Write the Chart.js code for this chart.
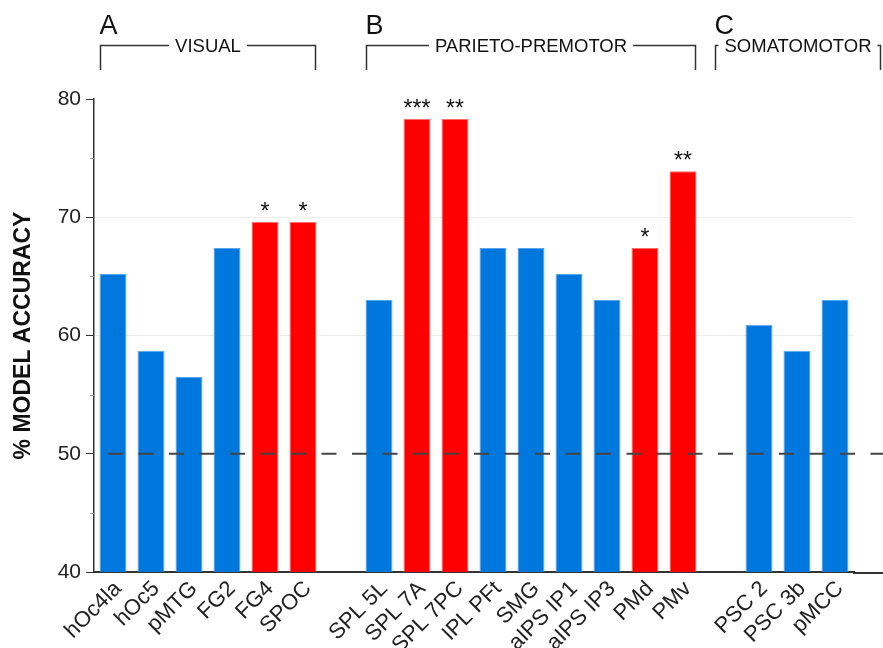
<!DOCTYPE html>
<html>
<head>
<meta charset="utf-8">
<script src="https://cdn.jsdelivr.net/npm/chart.js@4/dist/chart.umd.min.js"></script>
<style>
  html, body { margin: 0; padding: 0; background: #fff; }
  #wrap { width: 883px; height: 648px; }
</style>
</head>
<body>
<div id="wrap"><canvas id="accuracyChart"></canvas></div>
<script>
// regions of interest, '' = spacer between groups
const regions = ['hOc4la', 'hOc5', 'pMTG', 'FG2', 'FG4', 'SPOC', '',
  'SPL 5L', 'SPL 7A', 'SPL 7PC', 'IPL PFt', 'SMG', 'aIPS IP1', 'aIPS IP3', 'PMd', 'PMv', '',
  'PSC 2', 'PSC 3b', 'pMCC'];
const accuracy = [65.2, 58.7, 56.5, 67.4, 69.6, 69.6, null,
  63.0, 78.3, 78.3, 67.4, 67.4, 65.2, 63.0, 67.4, 73.9, null,
  60.9, 58.7, 63.0];
const stars = ['', '', '', '', '*', '*', '',
  '', '***', '**', '', '', '', '', '*', '**', '',
  '', '', ''];
const yTicks = [40, 50, 60, 70, 80];
const minorTicks = [45, 55, 65, 75];
const chanceLevel = 50;
const groupLetters = ['A', 'B', 'C'];
const groupNames = ['VISUAL', 'PARIETO-PREMOTOR', 'SOMATOMOTOR'];
const groupFrom = [0, 7, 16.2];
const groupTo = [5, 15, 19.85];

const BLUE = '#0077dd';
const RED = '#ff0000';
const FONT = '"Liberation Sans", Arial, sans-serif';

const barColors = stars.map(s => s ? RED : BLUE);
const barBorders = stars.map(s => s ? '#ff6a6a' : '#5aa6ea');

const annotate = {
  id: 'annotate',
  afterDatasetsDraw(chart) {
    const {ctx, chartArea, scales: {x, y}} = chart;
    const meta = chart.getDatasetMeta(0);
    const half = meta.data[0].width / 2;

    // chance level
    ctx.save();
    ctx.strokeStyle = '#444';
    ctx.lineWidth = 2;
    ctx.setLineDash([15, 15.5]);
    const yc = y.getPixelForValue(chanceLevel);
    ctx.beginPath();
    ctx.moveTo(chartArea.left + 14, yc);
    ctx.lineTo(chart.width, yc);
    ctx.stroke();
    ctx.restore();

    // x axis runs on to the edge
    ctx.save();
    ctx.strokeStyle = '#333';
    ctx.lineWidth = 2;
    ctx.beginPath();
    ctx.moveTo(chartArea.right - 1, chartArea.bottom + 1);
    ctx.lineTo(chart.width, chartArea.bottom + 1);
    ctx.stroke();

    // minor ticks
    ctx.strokeStyle = '#999';
    ctx.lineWidth = 1;
    minorTicks.forEach(v => {
      const py = Math.round(y.getPixelForValue(v)) + 0.5;
      ctx.beginPath();
      ctx.moveTo(chartArea.left - 4, py);
      ctx.lineTo(chartArea.left, py);
      ctx.stroke();
    });

    // significance stars
    ctx.fillStyle = '#111';
    ctx.font = '23px ' + FONT;
    ctx.textAlign = 'center';
    ctx.textBaseline = 'alphabetic';
    meta.data.forEach((bar, i) => {
      if (stars[i]) ctx.fillText(stars[i], bar.x, bar.y - 3);
    });

    // group brackets
    const lineY = 45.5, lowY = 70;
    groupNames.forEach((name, i) => {
      const l = Math.round(x.getPixelForValue(groupFrom[i]) - half) + 0.5;
      const r = Math.round(x.getPixelForValue(groupTo[i]) + half) - 0.5;
      const mid = (l + r) / 2;
      ctx.font = '18.5px ' + FONT;
      const tw = ctx.measureText(name).width;
      ctx.strokeStyle = '#333';
      ctx.lineWidth = 1.5;
      ctx.beginPath();
      ctx.moveTo(l, lowY);
      ctx.lineTo(l, lineY);
      ctx.lineTo(mid - tw / 2 - 6, lineY);
      ctx.moveTo(mid + tw / 2 + 6, lineY);
      ctx.lineTo(r, lineY);
      ctx.lineTo(r, lowY);
      ctx.stroke();
      ctx.fillStyle = '#111';
      ctx.textAlign = 'center';
      ctx.textBaseline = 'middle';
      ctx.fillText(name, mid, lineY + 1);

      ctx.font = '27px ' + FONT;
      ctx.textAlign = 'left';
      ctx.textBaseline = 'alphabetic';
      ctx.fillText(groupLetters[i], l - 1, 34);
    });
    ctx.restore();
  }
};

new Chart(document.getElementById('accuracyChart'), {
  type: 'bar',
  data: {
    labels: regions,
    datasets: [{
      data: accuracy,
      backgroundColor: barColors,
      borderColor: barBorders,
      borderWidth: 1,
      barPercentage: 0.71,
      categoryPercentage: 1
    }]
  },
  options: {
    responsive: true,
    maintainAspectRatio: false,
    animation: false,
    layout: {padding: {top: 99, right: 29, left: 0, bottom: 0}},
    plugins: {legend: {display: false}, tooltip: {enabled: false}},
    scales: {
      x: {
        grid: {display: false, drawTicks: false},
        border: {display: true, color: '#333', width: 2},
        ticks: {
          autoSkip: false,
          minRotation: 45,
          maxRotation: 45,
          color: '#222',
          font: {family: FONT, size: 22},
          padding: 4,
          labelOffset: 5
        },
        afterFit: s => { s.height = 76; }
      },
      y: {
        min: 40,
        max: 80,
        afterBuildTicks: s => { s.ticks = yTicks.map(v => ({value: v})); },
        grid: {
          color: c => (c.tick && (c.tick.value === 60 || c.tick.value === 70)) ? '#ececec' : 'rgba(0,0,0,0)',
          tickColor: '#333',
          tickLength: 8
        },
        border: {display: true, color: '#333', width: 1.5},
        ticks: {
          color: '#222',
          font: {family: FONT, size: 21},
          padding: 5
        },
        title: {
          display: true,
          text: '% MODEL ACCURACY',
          color: '#111',
          font: {family: FONT, size: 23, weight: 'bold'},
          padding: {top: 10, bottom: 0}
        },
        afterFit: s => { s.width = 94; }
      }
    }
  },
  plugins: [annotate]
});
</script>
</body>
</html>
